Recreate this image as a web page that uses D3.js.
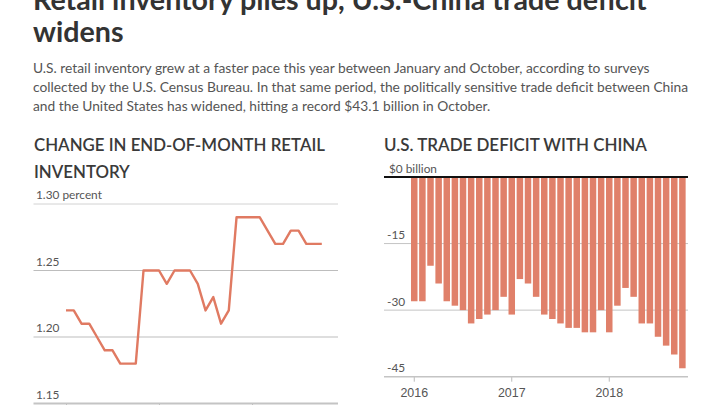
<!DOCTYPE html>
<html><head><meta charset="utf-8">
<script src="https://cdn.jsdelivr.net/npm/d3@7"></script>
<style>
html,body{margin:0;padding:0;background:#fff;overflow:hidden}
svg{display:block;font-family:Lato,"Open Sans",sans-serif}
</style></head><body>
<svg id="c" width="720" height="405"></svg>
<script>
// ---- data ----
const months = ["2016-01","2016-02","2016-03","2016-04","2016-05","2016-06","2016-07","2016-08","2016-09","2016-10","2016-11","2016-12",
                "2017-01","2017-02","2017-03","2017-04","2017-05","2017-06","2017-07","2017-08","2017-09","2017-10","2017-11","2017-12",
                "2018-01","2018-02","2018-03","2018-04","2018-05","2018-06","2018-07","2018-08","2018-09","2018-10"];
const inventory = [1.22,1.22,1.21,1.21,1.20,1.19,1.19,1.18,1.18,1.18,1.25,1.25,
                   1.25,1.24,1.25,1.25,1.25,1.24,1.22,1.23,1.21,1.22,1.29,1.29,
                   1.29,1.29,1.28,1.27,1.27,1.28,1.28,1.27,1.27,1.27];
const deficit = [-28,-28,-20,-24,-28,-29,-30,-33,-32,-31,-30,-27,
                 -31,-23,-24,-27,-31,-32,-33,-34,-34,-35,-35,-30,
                 -35,-29,-25,-27,-33,-33,-36,-38,-40,-43.1];
const yearTickMonths = ["2016-01","2017-01","2018-01"];
const yearLabels = ["2016","2017","2018"];
const invTicks = [1.15,1.20,1.25,1.30];
const invTickLabels = ["1.15","1.20","1.25","1.30 percent"];
const defTicks = [0,-15,-30,-45];
const defTickLabels = ["$0 billion","-15","-30","-45"];
const titleLines = ["Retail inventory piles up, U.S.-China trade deficit","widens"];
const subtitleLines = [
  "U.S. retail inventory grew at a faster pace this year between January and October, according to surveys",
  "collected by the U.S. Census Bureau. In that same period, the politically sensitive trade deficit between China",
  "and the United States has widened, hitting a record $43.1 billion in October."];
const leftTitle = ["CHANGE IN END-OF-MONTH RETAIL","INVENTORY"];
const rightTitle = ["U.S. TRADE DEFICIT WITH CHINA"];

const svg = d3.select("#c");
const lineColor = "#e07a62", barColor = "#e0806a";

function measure(text, fs, weight){
  const p = svg.append("text").attr("font-size",fs).attr("font-weight",weight||400).text(text);
  const w = p.node().getComputedTextLength(); p.remove(); return w;
}
function txt(x, y, s, fs, weight, fill, width){
  const t = svg.append("text").attr("x",x).attr("y",y).attr("font-size",fs)
    .attr("font-weight",weight).attr("fill",fill).text(s);
  if (width) t.attr("textLength",width).attr("lengthAdjust","spacingAndGlyphs");
  return t;
}

// ---- title ----
const tfs = 28*614/measure(titleLines[0],28,700);
txt(33,10,titleLines[0],tfs,700,"#333");
txt(33,42,titleLines[1],tfs,700,"#333");

// ---- subtitle ----
const subY = [73.3, 92.3, 111];
const sfs = 15*656/measure(subtitleLines[1],15,400);
subtitleLines.forEach((s,i)=>txt(33,subY[i],s,sfs,400,"#555"));

// ---- section titles ----
const hfs = 1.04*17*291/measure(leftTitle[0],17,600);
txt(34,150.7,leftTitle[0],hfs,600,"#3a3a3a",291);
txt(34,178.3,leftTitle[1],hfs,600,"#3a3a3a",measure(leftTitle[1],hfs,600)/1.04);
txt(384,150.7,rightTitle[0],hfs,600,"#3a3a3a",263);

// tick label font size
const lfs = 1.03*13*64/measure(invTickLabels[3],13,400);

// ---- left chart: line ----
const xL = d3.scalePoint().domain(months).range([66, 321.8]);
const yL = d3.scaleLinear().domain([1.15,1.30]).range([403.5,204]);
const gL = svg.append("g");
gL.selectAll("line.grid").data(invTicks.slice(1)).join("line").attr("class","grid")
  .attr("x1",33.5).attr("x2",338).attr("y1",d=>yL(d)).attr("y2",d=>yL(d))
  .attr("stroke",d=>d===1.30?"#d2d2d2":"#bdbdbd").attr("stroke-width",1);
gL.selectAll("text.tl").data(invTicks).join("text").attr("class","tl")
  .attr("x",36).attr("y",d=>yL(d)-5).attr("font-size",lfs).attr("fill","#555")
  .text((d,i)=>invTickLabels[i]);
// x axis (year labels fall below the visible frame in the reference, so only ticks show)
const axL = gL.append("g").attr("transform",`translate(0,${yL(1.15)})`)
  .call(d3.axisBottom(xL).tickValues(yearTickMonths).tickFormat("").tickSize(5));
axL.select(".domain").remove();
axL.selectAll(".tick line").attr("stroke","#bbb");
gL.append("line").attr("x1",33.5).attr("x2",338).attr("y1",yL(1.15)).attr("y2",yL(1.15))
  .attr("stroke","#c4c4c4").attr("stroke-width",2);
gL.append("path").datum(inventory)
  .attr("d", d3.line().x((d,i)=>xL(months[i])).y(d=>yL(d)))
  .attr("fill","none").attr("stroke",lineColor).attr("stroke-width",2.4).attr("stroke-linejoin","round");

// ---- right chart: bars ----
const xR = d3.scaleBand().domain(months).range([410.2, 686.45]).paddingInner(0.2).paddingOuter(0.1);
const yR = d3.scaleLinear().domain([-45,0]).range([376.7,177]);
const gR = svg.append("g");
gR.selectAll("line.grid").data(defTicks.slice(1,3)).join("line").attr("class","grid")
  .attr("x1",384).attr("x2",688).attr("y1",d=>yR(d)).attr("y2",d=>yR(d))
  .attr("stroke","#c4c4c4").attr("stroke-width",1);
gR.selectAll("rect").data(deficit).join("rect")
  .attr("x",(d,i)=>xR(months[i])).attr("width",xR.bandwidth())
  .attr("y",yR(0)).attr("height",d=>yR(d)-yR(0)).attr("fill",barColor);
gR.selectAll("text.tl").data(defTicks).join("text").attr("class","tl")
  .attr("x",(d,i)=>i===0?389:387).attr("y",d=>yR(d)-4.5).attr("font-size",lfs).attr("fill","#555")
  .text((d,i)=>defTickLabels[i]);
const axR = gR.append("g").attr("transform",`translate(0,${yR(-45)})`)
  .call(d3.axisBottom(xR).tickValues(yearTickMonths).tickFormat((d,i)=>yearLabels[i]).tickSize(5).tickPadding(6));
axR.select(".domain").remove();
axR.selectAll(".tick line").attr("stroke","#bbb");
axR.selectAll(".tick text").attr("font-size",lfs*1.05).attr("fill","#555").attr("font-family",null);
gR.append("line").attr("x1",384).attr("x2",688).attr("y1",yR(-45)).attr("y2",yR(-45))
  .attr("stroke","#c4c4c4").attr("stroke-width",1.5);
gR.append("line").attr("x1",384).attr("x2",688).attr("y1",yR(0)).attr("y2",yR(0))
  .attr("stroke","#111").attr("stroke-width",2);
</script></body></html>
